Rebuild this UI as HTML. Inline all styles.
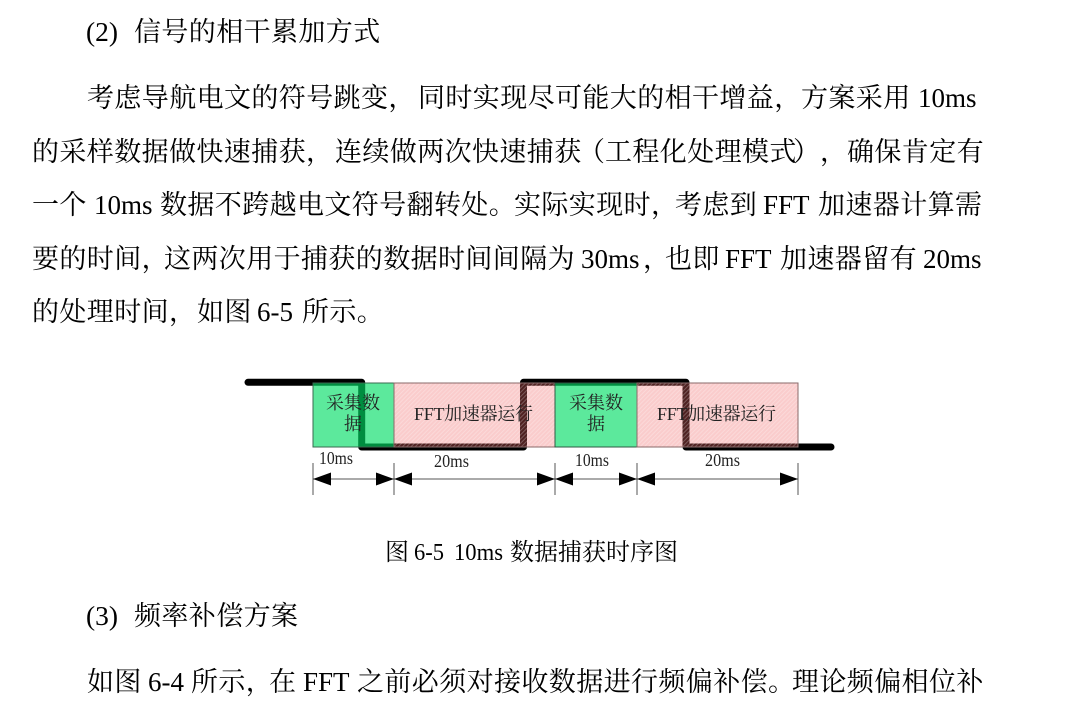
<!DOCTYPE html>
<html lang="zh">
<head>
<meta charset="utf-8">
<style>
html,body{margin:0;padding:0;background:#fff;width:1080px;height:719px;overflow:hidden}
svg{display:block;filter:blur(.3px)}
.t{font-family:"Liberation Serif","Noto Serif CJK SC",serif;font-size:27px;letter-spacing:.4px;fill:#000}
.l{font-family:"Liberation Serif","Noto Serif CJK SC",serif;font-size:27px;fill:#000}
.c{font-family:"Liberation Serif","Noto Serif CJK SC",serif;font-size:24px;fill:#000}
.d{font-family:"Liberation Serif","Noto Serif CJK SC",serif;font-size:18px;fill:#222}
</style>
</head>
<body>
<svg width="1080" height="719" viewBox="0 0 1080 719" xmlns="http://www.w3.org/2000/svg">
<defs>
<pattern id="h" width="3" height="3" patternUnits="userSpaceOnUse" patternTransform="rotate(45)">
<rect width="3" height="3" fill="rgb(240,100,100)" fill-opacity=".33"/>
<rect width="1" height="3" fill="#fff" fill-opacity=".25"/>
</pattern>
</defs>
<text class="l" x="86" y="41" textLength="32" lengthAdjust="spacingAndGlyphs">(2)</text>
<text class="t" x="134" y="41">信号的相干累加方式</text>

<text class="t" x="87" y="107">考虑导航电文的符号跳变，</text>
<text class="t" x="418" y="107">同时实现尽可能大的相干增益，</text>
<text class="t" x="801" y="107">方案采用</text>
<text class="l" x="918" y="107">10ms</text>

<text class="t" x="32" y="161">的采样数据做快速捕获，</text>
<text class="t" x="335" y="161" letter-spacing="0">连续做两次快速捕获</text>
<text class="t" x="578" y="161">（</text>
<text class="t" x="605" y="161">工程化处理模式</text>
<text class="t" x="793" y="161">）</text>
<text class="t" x="820" y="161">，</text>
<text class="t" x="847" y="161">确保肯定有</text>

<text class="t" x="32" y="214">一个</text>
<text class="l" x="94" y="214">10ms</text>
<text class="t" x="160" y="214">数据不跨越电文符号翻转处。</text>
<text class="t" x="514" y="214">实际实现时，</text>
<text class="t" x="675" y="214">考虑到</text>
<text class="l" x="763" y="214">FFT</text>
<text class="t" x="818" y="214">加速器计算需</text>

<text class="t" x="32" y="268">要的时间，</text>
<text class="t" x="164" y="268">这两次用于捕获的数据时间间隔为</text>
<text class="l" x="581" y="268">30ms</text>
<text class="t" x="643" y="268">，</text>
<text class="t" x="665" y="268">也即</text>
<text class="l" x="725" y="268">FFT</text>
<text class="t" x="780" y="268">加速器留有</text>
<text class="l" x="923" y="268">20ms</text>

<text class="t" x="32" y="321">的处理时间，</text>
<text class="t" x="197" y="321">如图</text>
<text class="l" x="257" y="321">6-5</text>
<text class="t" x="302" y="321">所示。</text>

<path d="M248 382.300H361.700V447H523.500V382.300H686V447H831" fill="none" stroke="#000" stroke-width="7" stroke-linecap="round" stroke-linejoin="round"/>
<g fill="rgb(0,220,100)" fill-opacity=".64">
<rect x="313" y="383" width="81" height="64"/>
<rect x="555" y="383" width="82" height="64"/>
</g>
<rect x="394" y="383" width="161" height="64" fill="url(#h)"/>
<rect x="637" y="383" width="161" height="64" fill="url(#h)"/>
<g fill="none" stroke-width="1">
<rect x="313" y="383" width="81" height="64" stroke="#3a6a50"/>
<rect x="394" y="383" width="161" height="64" stroke="#8a6a6a"/>
<rect x="555" y="383" width="82" height="64" stroke="#2f5a44"/>
<rect x="637" y="383" width="161" height="64" stroke="#8a6a6a"/>
</g>
<text class="d" x="326" y="409" textLength="54" lengthAdjust="spacing">采集数</text>
<text class="d" x="353" y="430" text-anchor="middle">据</text>
<text class="d" x="569" y="409" textLength="54" lengthAdjust="spacing">采集数</text>
<text class="d" x="596" y="430" text-anchor="middle">据</text>
<text class="d" x="414" y="420" textLength="119" lengthAdjust="spacing">FFT加速器运行</text>
<text class="d" x="657" y="420" textLength="119" lengthAdjust="spacing">FFT加速器运行</text>
<text class="d" x="319" y="464" textLength="34" lengthAdjust="spacingAndGlyphs">10ms</text>
<text class="d" x="434" y="467" textLength="35" lengthAdjust="spacingAndGlyphs">20ms</text>
<text class="d" x="575" y="466" textLength="34" lengthAdjust="spacingAndGlyphs">10ms</text>
<text class="d" x="705" y="466" textLength="35" lengthAdjust="spacingAndGlyphs">20ms</text>
<g stroke="#555" stroke-width="1" fill="none">
<path d="M313 463V495M394 463V495M555 463V495M637 463V495M798 463V495"/>
<path d="M313 479H798"/>
</g>
<g fill="#000">
<polygon points="313,479 331,472.500 331,485.500"/>
<polygon points="394,479 376,472.500 376,485.500"/>
<polygon points="394,479 412,472.500 412,485.500"/>
<polygon points="555,479 537,472.500 537,485.500"/>
<polygon points="555,479 573,472.500 573,485.500"/>
<polygon points="637,479 619,472.500 619,485.500"/>
<polygon points="637,479 655,472.500 655,485.500"/>
<polygon points="798,479 780,472.500 780,485.500"/>
</g>

<text class="c" x="385" y="560">图</text>
<text class="c" x="414" y="560" textLength="30" lengthAdjust="spacingAndGlyphs">6-5</text>
<text class="c" x="454" y="560" textLength="49" lengthAdjust="spacingAndGlyphs">10ms</text>
<text class="c" x="510" y="560">数据捕获时序图</text>

<text class="l" x="86" y="625" textLength="32" lengthAdjust="spacingAndGlyphs">(3)</text>
<text class="t" x="134" y="625">频率补偿方案</text>

<text class="t" x="87" y="691">如图</text>
<text class="l" x="148" y="691">6-4</text>
<text class="t" x="191" y="691">所示，</text>
<text class="t" x="269" y="691">在</text>
<text class="l" x="303" y="691">FFT</text>
<text class="t" x="357" y="691" letter-spacing="0.2">之前必须对接收数据进行频偏补偿。</text>
<text class="t" x="792" y="691">理论频偏相位补</text>
</svg>
</body>
</html>
